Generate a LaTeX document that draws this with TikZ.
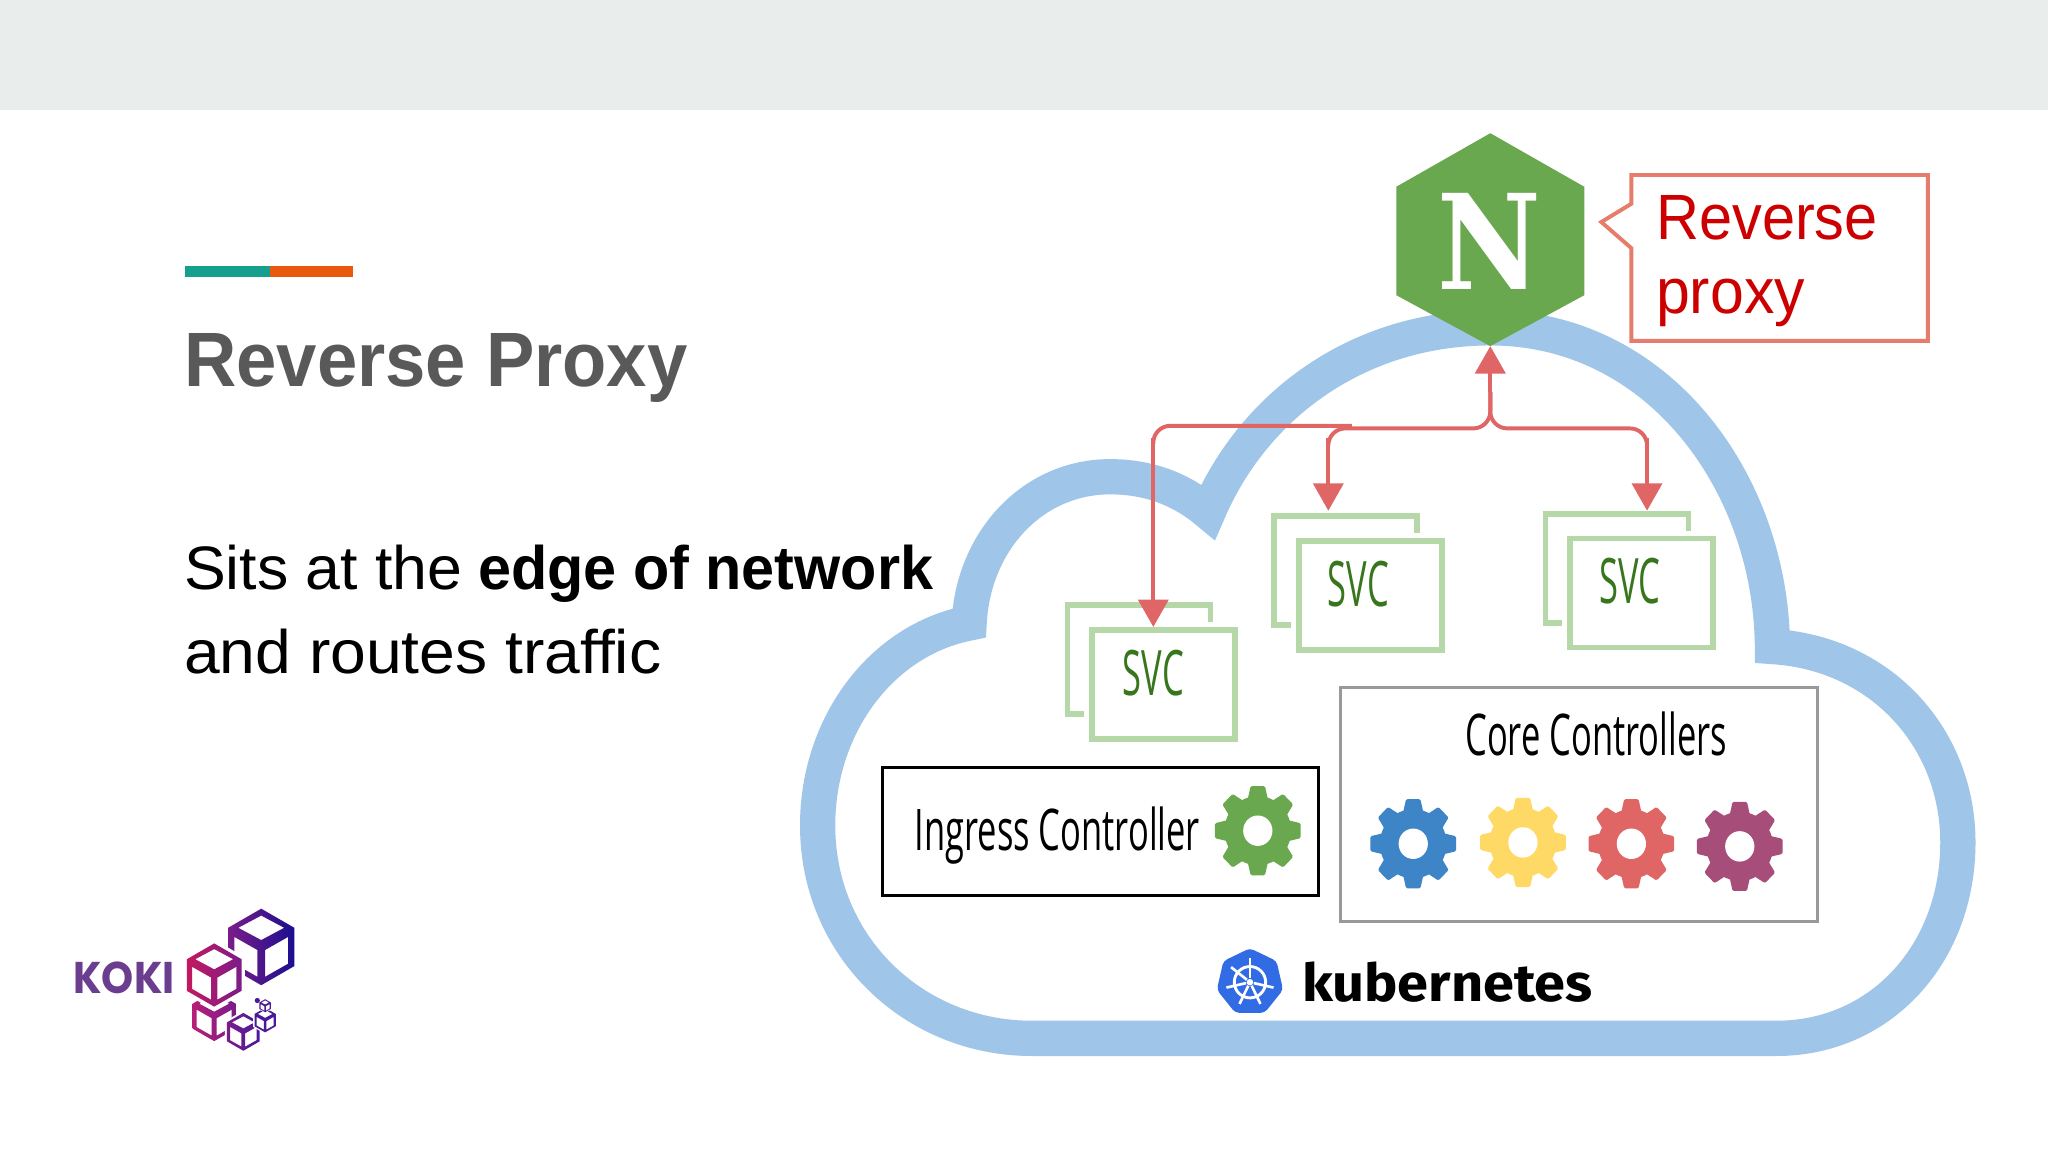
\documentclass[tikz,border=0pt]{standalone}
\usepackage{graphicx}
\usepackage{fontspec}
\usetikzlibrary{arrows.meta,shapes.geometric}
\setmainfont{Liberation Sans}
\newfontfamily\opensans{Open Sans}
\newfontfamily\firasans{Fira Sans}
\newfontfamily\poppins{Poppins}
\newfontfamily\djserif{DejaVu Serif}
\definecolor{cloudblue}{HTML}{9FC5E8}
\definecolor{bandgrey}{HTML}{E9EEEC}
\definecolor{nginxgreen}{HTML}{6AA84F}
\definecolor{connred}{HTML}{E06666}
\definecolor{calloutred}{HTML}{E67C6C}
\definecolor{svcgreen}{HTML}{B6D7A8}
\definecolor{svctext}{HTML}{38761D}
\definecolor{titlegrey}{HTML}{595959}
\definecolor{gearblue}{HTML}{3D85C6}
\definecolor{gearyellow}{HTML}{FFD966}
\definecolor{gearpurple}{HTML}{A64D79}
\definecolor{k8sblue}{HTML}{326CE5}
\definecolor{accentteal}{HTML}{14A08C}
\definecolor{accentorange}{HTML}{E8590C}
\definecolor{kokipurple}{HTML}{6A3D8F}
\definecolor{proxyred}{HTML}{CC0000}
\definecolor{cubenavy}{HTML}{1A0F8F}
\definecolor{cubeviolet}{HTML}{7B1C8A}
\definecolor{cubecrimson}{HTML}{C4195F}
\definecolor{cubepink}{HTML}{B81E78}
\definecolor{cubeindigo}{HTML}{4A1A9A}
\tikzset{
  txt/.style={inner sep=0pt,outer sep=0pt,anchor=base west,align=left},
  ctxt/.style={inner sep=0pt,outer sep=0pt,anchor=center},
  svcback/.style={draw=svcgreen,line width=4.5pt,minimum width=109.5pt,minimum height=83.5pt,inner sep=0pt,outer sep=0pt},
  svcfront/.style={svcback,fill=white,preaction={draw=white,line width=12pt}},
  conn/.style={draw=connred,line width=3pt,-{Triangle[length=21pt,width=23pt]},rounded corners=13pt},
  connplain/.style={draw=connred,line width=3pt,rounded corners=13pt},
}
\newcommand{\narrowtxt}[3]{\scalebox{#1}[1]{\opensans\fontsize{#2}{#2}\selectfont #3}}
\newcommand{\gearicon}[3]{%
  \begin{scope}[shift={(#1,#2)},yscale=1.04]
    \fill[#3] (0,0) circle (25.5);
    \foreach \a in {0,45,...,315}{
      \fill[#3,rotate=\a,rounded corners=1pt] (-8,-22) -- (-5.5,-32.8) -- (5.5,-32.8) -- (8,-22) -- cycle;
    }
    \fill[white] (0,0) circle (11.2);
  \end{scope}}
\newcommand{\kcube}[5]{%
  \begin{scope}[shift={(#1,#2)},scale=#3]
    \fill[white] (0,-1.12) -- (.97,-.56) -- (.97,.56) -- (0,1.12) -- (-.97,.56) -- (-.97,-.56) -- cycle;
    \shade[left color=#4,right color=#5,even odd rule]
      (0,-1) -- (.866,-.5) -- (.866,.5) -- (0,1) -- (-.866,.5) -- (-.866,-.5) -- cycle
      (0,-.82) -- (.6,-.5) -- (0,-.18) -- (-.6,-.5) -- cycle
      (-.1,.08) -- (-.1,.78) -- (-.7,.44) -- (-.7,-.26) -- cycle
      (.1,.08) -- (.1,.78) -- (.7,.44) -- (.7,-.26) -- cycle;
  \end{scope}}
\begin{document}
\begin{tikzpicture}[x=1pt,y=-1pt]
\useasboundingbox (0,0) rectangle (1568,882);
\fill[white] (0,0) rectangle (1568,882);
\fill[bandgrey] (0,0) rectangle (1568,84);
\fill[accentteal] (142,204) rectangle (207,212);
\fill[accentorange] (207,204) rectangle (270,212);
% left text
\node[txt,text=titlegrey] (title) at (141,296) {\scalebox{.94}[1]{\fontsize{59}{59}\selectfont\bfseries Reverse Proxy}};
\node[txt] (line1a) at (141,451) {\scalebox{1.02}[1]{\fontsize{47}{47}\selectfont Sits at the}};
\node[txt] (line1b) at (366,451) {\scalebox{.967}[1]{\fontsize{47}{47}\selectfont\bfseries edge of network}};
\node[txt] (line2) at (141,516) {\scalebox{1.046}[1]{\fontsize{47}{47}\selectfont and routes traffic}};
% cloud
\draw[cloudblue,line width=27pt,line join=miter,miter limit=10]
  (790,795) -- (1360,795)
  .. controls (1440,795) and (1499,730) .. (1499,645)
  .. controls (1499,565) and (1440,500) .. (1357,495)
  .. controls (1356,370) and (1270,251) .. (1141,251)
  .. controls (1040,251) and (960,310) .. (925,392)
  .. controls (905,375) and (880,365) .. (850,365)
  .. controls (790,365) and (745,415) .. (742,477)
  .. controls (675,490) and (626,555) .. (626,632)
  .. controls (626,725) and (700,795) .. (790,795) -- cycle;
% hexagon
\fill[nginxgreen] (1141,102) -- (1213,143) -- (1213,226) -- (1141,265) -- (1069,226) -- (1069,143) -- cycle;
\node[ctxt,text=white] (nlogo) at (1140,185) {\scalebox{.86}[1]{\djserif\bfseries\fontsize{101}{101}\selectfont N}};
\coordinate (hexbottom) at (1141,265);
% callout
\draw[calloutred,line width=3pt,fill=white,line join=miter]
  (1249,134) -- (1476,134) -- (1476,261) -- (1249,261) -- (1249,190) -- (1226,170) -- (1249,156) -- cycle;
\node[txt,text=proxyred] (rp1) at (1268,183) {\scalebox{.93}[1]{\fontsize{49}{49}\selectfont Reverse}};
\node[txt,text=proxyred] (rp2) at (1268,240) {\scalebox{.95}[1]{\fontsize{49}{49}\selectfont proxy}};
% services
\node[svcback] (back1) at (872,505) {};
\node[svcfront] (front1) at (891,524) {};
\node[ctxt,text=svctext] (svc1) at (883,515) {\narrowtxt{.55}{48}{SVC}};
\node[svcback] (back2) at (1030,437) {};
\node[svcfront] (front2) at (1049,456) {};
\node[ctxt,text=svctext] (svc2) at (1040,447) {\narrowtxt{.55}{48}{SVC}};
\node[svcback] (back3) at (1238,435) {};
\node[svcfront] (front3) at (1257,454) {};
\node[ctxt,text=svctext] (svc3) at (1248,445) {\narrowtxt{.55}{48}{SVC}};
% ingress
\node[draw=black,line width=2pt,fill=white,minimum width=334pt,minimum height=98pt,inner sep=0pt] (ingress) at (842.5,636.5) {};
\node[ctxt] (ingresstxt) at (809.5,640) {\narrowtxt{.6}{44}{Ingress Controller}};
\gearicon{963}{636}{nginxgreen}
% core
\node[draw=black!40,line width=2pt,fill=white,minimum width=365pt,minimum height=179pt,inner sep=0pt] (core) at (1209,616) {};
\node[ctxt] (coretxt) at (1222,562) {\narrowtxt{.6}{44}{Core Controllers}};
\gearicon{1082}{646}{gearblue}
\gearicon{1166}{645}{gearyellow}
\gearicon{1249}{646}{connred}
\gearicon{1332}{648}{gearpurple}
% kubernetes
\node[regular polygon,regular polygon sides=7,fill=k8sblue,minimum size=52pt,inner sep=0pt,rounded corners=3pt] (k8s) at (957,752) {};
\draw[white,line width=2.2pt] (k8s.center) circle (12);
\foreach \a in {0,51.43,...,308}{
  \draw[white,line width=2pt,rotate around={\a:(k8s.center)}] (957,749) -- (957,733.5);
}
\fill[white] (k8s.center) circle (2.5);
\node[txt] (k8stxt) at (997,767) {\scalebox{1.07}[1]{\firasans\bfseries\fontsize{40}{40}\selectfont kubernetes}};
% connectors
\coordinate (busR) at (1141,300);
\coordinate (tip2) at (1017,391);
\coordinate (tip3) at (1261,391);
\coordinate (tip1) at (883,480);
\coordinate (busL) at (1035,326);
\draw[connplain] (busR) -- (1141,328) -- (1017,328) -- (1017,340);
\draw[conn,rounded corners=0pt] (1017,335) -- (tip2);
\draw[connplain] (busR) -- (1141,328) -- (1261,328) -- (1261,340);
\draw[conn,rounded corners=0pt] (1261,335) -- (tip3);
\draw[connplain] (busL) -- (883,326) -- (883,340);
\draw[conn,rounded corners=0pt] (883,335) -- (tip1);
\draw[conn,rounded corners=0pt] (busR) -- (hexbottom);
% koki
\node[ctxt,text=kokipurple] (koki) at (95,749) {\scalebox{.92}[1]{\poppins\fontsize{34}{34}\selectfont\bfseries KOKI}};
\kcube{200}{725}{29.3}{cubeviolet}{cubenavy}
\kcube{164}{778}{19.1}{cubepink}{cubeviolet}
\kcube{164}{746.5}{24.2}{cubecrimson}{cubeviolet}
\kcube{186.3}{790}{14.5}{cubeviolet}{cubeindigo}
\kcube{203}{781}{9.4}{cubeindigo}{cubeindigo}
\kcube{203}{770}{5}{cubeindigo}{cubeindigo}
\fill[cubeindigo] (197,766) circle (2);
\end{tikzpicture}
\end{document}
